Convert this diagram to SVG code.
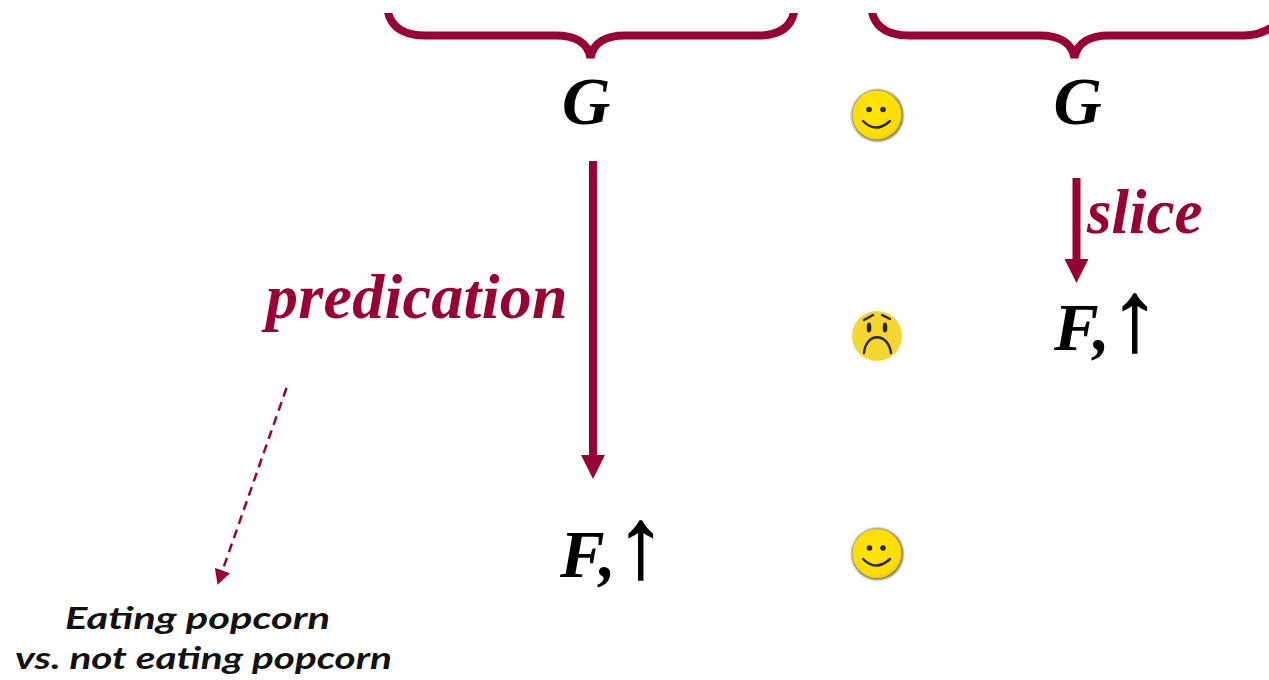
<svg xmlns="http://www.w3.org/2000/svg" width="1269" height="680" viewBox="0 0 1269 680">
<style>
.math{font-family:"Liberation Serif","Times New Roman",serif;font-weight:700;font-style:italic;font-size:67px;fill:#000}
.lab{font-family:"Liberation Serif","Times New Roman",serif;font-weight:700;font-style:italic;fill:#990033}
.up{font-family:"Liberation Serif","DejaVu Sans",serif;font-weight:400;font-style:normal;font-size:100px;stroke:#000;stroke-width:1.300}
.hand{font-family:"Lato","Open Sans",sans-serif;font-weight:700;font-style:italic;font-size:30px;fill:#111}
.brace{fill:none;stroke:#990033;stroke-width:8;stroke-linecap:round}
.main{stroke:#990033;stroke-width:8;fill:none}
.dash{stroke:#990033;stroke-width:2.500;stroke-dasharray:9 6;fill:none}
.ink{fill:none;stroke:#2b2410;stroke-width:2.400;stroke-linecap:round}
.eye{fill:#2b2410}
</style>
<defs>
<clipPath id="top"><rect x="0" y="13" width="1269" height="667"/></clipPath>
<filter id="soft" x="-20%" y="-20%" width="140%" height="140%"><feGaussianBlur stdDeviation="1.200"/></filter>
<radialGradient id="sun" cx="45%" cy="42%" r="60%"><stop offset="0" stop-color="#ffe600"/><stop offset="0.85" stop-color="#fbdc05"/><stop offset="1" stop-color="#e6cc12"/></radialGradient>
<marker id="big" markerUnits="userSpaceOnUse" markerWidth="24" markerHeight="24" refX="0" refY="12" orient="auto" viewBox="0 0 24 24"><path d="M0 0L24 12L0 24Z" fill="#990033"/></marker>
<marker id="small" markerUnits="userSpaceOnUse" markerWidth="15" markerHeight="16" refX="0" refY="8" orient="auto" viewBox="0 0 15 16"><path d="M0 0L15 8L0 16Z" fill="#990033"/></marker>
</defs>
<g id="connectors">
<g clip-path="url(#top)">
<path class="brace" d="M387 5C388 24 400 35.500 425 35.500H556C574 35.500 588 42 590.500 58C593 42 607 35.500 625 35.500H758C783 35.500 794 24 795 5"/>
<path class="brace" d="M871 5C872 24 884 35.500 909 35.500H1040C1058 35.500 1072 42 1074.500 58C1077 42 1091 35.500 1109 35.500H1244C1256 35.500 1266 32 1275 25"/>
</g>
<line class="main" x1="593" y1="161" x2="593" y2="455" marker-end="url(#big)"/>
<line class="main" x1="1076.500" y1="178" x2="1076.500" y2="259" marker-end="url(#big)"/>
<line class="dash" x1="286.500" y1="388" x2="222.500" y2="570.500" marker-end="url(#small)"/>
</g>
<g id="node-g-left"><text class="math" x="562" y="124">G</text></g>
<g id="node-g-right"><text class="math" x="1053.500" y="124">G</text></g>
<g id="node-f-left"><text class="math" x="560" y="577">F<tspan dx="3">,</tspan><tspan class="up">↑</tspan></text></g>
<g id="node-f-right"><text class="math" x="1054" y="350">F<tspan dx="3">,</tspan><tspan class="up">↑</tspan></text></g>
<g id="label-predication"><text class="lab" font-size="64" x="266" y="318" letter-spacing="0.300">predication</text></g>
<g id="label-slice"><text class="lab" font-size="63" x="1087" y="233">slice</text></g>
<g id="label-popcorn">
<text class="hand" x="65" y="629" textLength="265" lengthAdjust="spacingAndGlyphs">Eating popcorn</text>
<text class="hand" x="15" y="669" textLength="377" lengthAdjust="spacingAndGlyphs">vs. not eating popcorn</text>
</g>
<g id="face-happy-top">
<circle cx="877.500" cy="115.500" r="26" fill="#7d7850" filter="url(#soft)"/>
<circle cx="877" cy="115" r="24.500" fill="url(#sun)"/>
<circle class="eye" cx="869" cy="109.500" r="2.800"/><circle class="eye" cx="883" cy="109.500" r="2.800"/>
<path class="ink" d="M863 121Q876 134 890 121"/>
</g>
<g id="face-sad">
<circle cx="877" cy="336" r="25" fill="#f3d62e"/>
<ellipse class="eye" cx="869" cy="327.500" rx="2.300" ry="5"/><ellipse class="eye" cx="885" cy="327.500" rx="2.300" ry="5"/>
<path class="ink" d="M864 353C866 332 888 332 891 353" stroke-width="1.500"/>
<path class="ink" d="M864 320L873 315M882 315L890 319" stroke-width="0.800"/>
</g>
<g id="face-happy-bottom">
<circle cx="877.500" cy="554" r="26" fill="#7d7850" filter="url(#soft)"/>
<circle cx="877" cy="553.500" r="24.500" fill="url(#sun)"/>
<circle class="eye" cx="869.500" cy="548" r="2.800"/><circle class="eye" cx="883" cy="548" r="2.800"/>
<path class="ink" d="M863 559Q876 572 890 559"/>
</g>
</svg>
